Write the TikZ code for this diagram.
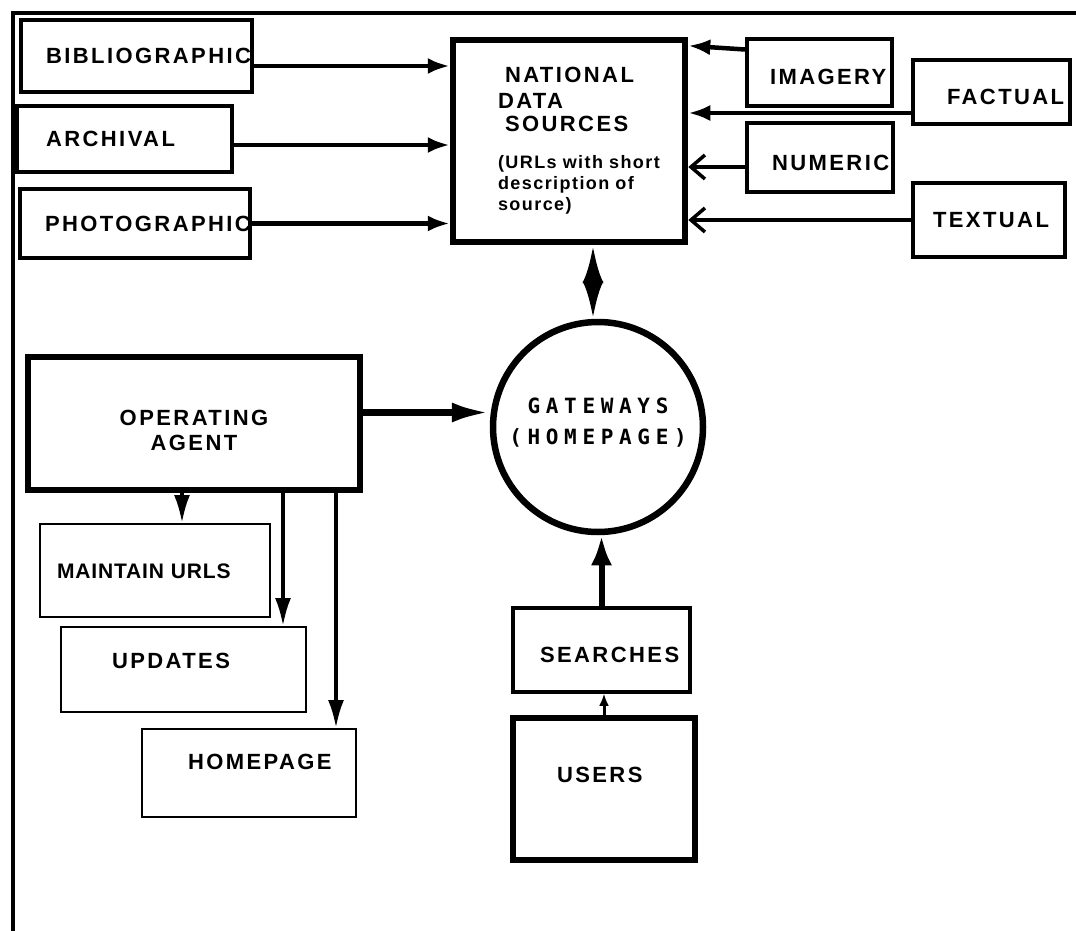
\documentclass[tikz,border=0pt]{standalone}
\usepackage{fontspec}
\setmainfont{Liberation Sans}
\newfontfamily\boxlabelfont{Liberation Sans}[LetterSpace=11]
\newfontfamily\notefont{Liberation Sans}[LetterSpace=8]
\newfontfamily\gatewayfont{DejaVu Sans Mono}[LetterSpace=27]
\usetikzlibrary{arrows.meta}

\hyphenpenalty=10000
\exhyphenpenalty=10000
\newcommand{\titlesize}{\boxlabelfont\bfseries\fontsize{22}{22}\selectfont}

\begin{document}
\begin{tikzpicture}[x=1pt,y=-1pt,
    label text/.style={font=\boxlabelfont\bfseries\fontsize{22}{26}\selectfont},
    source box/.style={rectangle,draw,line width=4pt,inner sep=0pt,align=left,
      text height=15.75pt,text depth=0pt,label text},
    task box/.style={source box,line width=2pt},
    main box/.style={rectangle,draw,line width=6.5pt,inner sep=0pt,label text},
    feed/.style={line width=4.5pt,-{Latex[length=22pt,width=16pt]}},
    open feed/.style={line width=3.5pt,-{Straight Barb[length=14pt,width=24pt]}},
    link/.style={line width=6.5pt,-{Latex[length=38pt,width=20pt]}},
    both link/.style={line width=5.5pt,{Latex[length=38pt,width=21pt]}-{Latex[length=38pt,width=21pt]}},
    up link/.style={line width=6pt,-{Latex[length=30pt,width=21pt]}},
    down link/.style={line width=3.5pt,-{Latex[length=28pt,width=16pt]}},
    small link/.style={line width=3pt,-{Latex[length=12pt,width=10pt]}}]

  \useasboundingbox (0,0) rectangle (1076,931);

  % frame
  \draw[line width=4pt] (1076,13) -- (13,13) -- (13,931);

  % sources on the left
  \node[source box,minimum width=231pt,minimum height=72pt,text width=181pt] (bib) at (136.5,56) {BIBLIOGRAPHIC};
  \node[source box,minimum width=215pt,minimum height=66pt,text width=157pt] (arch) at (124.5,139) {ARCHIVAL};
  \node[source box,minimum width=230pt,minimum height=69pt,text width=180pt] (photo) at (135,223.5) {PHOTOGRAPHIC};

  % sources on the right
  \node[source box,minimum width=145pt,minimum height=67pt,text width=99pt,text height=23.75pt] (img) at (819.5,72.5) {IMAGERY};
  \node[source box,minimum width=157pt,minimum height=64pt,text width=89pt,text height=25.75pt] (fact) at (991.5,92) {FACTUAL};
  \node[source box,minimum width=146pt,minimum height=69pt,text width=96pt,text height=25.75pt] (num) at (820,157.5) {NUMERIC};
  \node[source box,minimum width=152pt,minimum height=74pt,text width=112pt] (txt) at (989,220) {TEXTUAL};

  \node[main box,minimum width=232pt,minimum height=202pt,text width=142pt,align=left,
        font=\notefont\bfseries\fontsize{18}{21}\selectfont] (nat) at (569,141)
    {{\titlesize\hspace*{7pt}NATIONAL}\\[5pt]{\titlesize DATA}\\[2pt]{\titlesize\hspace*{7pt}SOURCES}\\[16pt]
     (URLs~with~short\\description~of\\source)};

  \node[circle,draw,line width=6.5pt,minimum size=210pt,inner sep=0pt,align=center,
        text width=190pt,text height=7.5pt,
        font=\gatewayfont\bfseries\fontsize{21}{24}\selectfont] (gate) at (598,427)
    {GATEWAYS\\[7pt](HOMEPAGE)};

  \node[main box,minimum width=332pt,minimum height=133pt,align=center,
        text width=300pt,text height=29.75pt] (oa) at (194,423.5)
    {OPERATING\\[-1pt]AGENT};

  \node[task box,minimum width=230pt,minimum height=93pt,text width=196pt,
        font=\boxlabelfont\bfseries\fontsize{21}{24}\selectfont\addfontfeature{LetterSpace=4}] (maint) at (155,570.5) {MAINTAIN URLS};
  \node[task box,minimum width=245pt,minimum height=85pt,text width=143pt,text depth=17pt] (upd) at (183.5,669.5) {UPDATES};
  \node[task box,minimum width=214pt,minimum height=88pt,text width=122pt,text depth=22pt] (home) at (249,773) {HOMEPAGE};

  \node[source box,line width=3.5pt,minimum width=177pt,minimum height=84pt,text width=123pt,text height=25.75pt] (srch) at (601.5,650) {SEARCHES};
  \node[source box,line width=6.5pt,minimum width=182pt,minimum height=142pt,text width=94pt,text depth=28pt] (usr) at (604,789) {USERS};

  \draw[feed] ([yshift=-10pt]bib.east) coordinate (b1) -- (b1 -| nat.west);
  \draw[feed] ([yshift=-6pt]arch.east) coordinate (a1) -- (a1 -| nat.west);
  \draw[feed] (photo.east) -- (photo.east -| nat.west);

  \draw[feed] ([yshift=23pt]img.west) -- ([yshift=-9pt]nat.north east);
  \draw[feed] ([yshift=-21pt]fact.west) coordinate (f1) -- (f1 -| nat.east);
  \draw[open feed] ([yshift=-9.5pt]num.west) coordinate (n1) -- (n1 -| nat.east);
  \draw[open feed] (txt.west) -- (txt.west -| nat.east);

  \draw[both link] ([xshift=24pt]nat.south) coordinate (d1) -- (d1 |- gate.north);
  \draw[link] ([yshift=11pt]oa.east) coordinate (o1) -- (o1 -| gate.west);
  \draw[up link] (srch.north) -- (srch.north |- gate.south);
  \draw[small link] (usr.north) -- (usr.north |- srch.south);

  \draw[down link] ([xshift=-12pt]oa.south) coordinate (m1) -- (m1 |- maint.north);
  \draw[down link] ([xshift=89pt]oa.south) coordinate (m2) -- (m2 |- upd.north);
  \draw[down link] ([xshift=142pt]oa.south) coordinate (m3) -- (m3 |- home.north);

\end{tikzpicture}
\end{document}
